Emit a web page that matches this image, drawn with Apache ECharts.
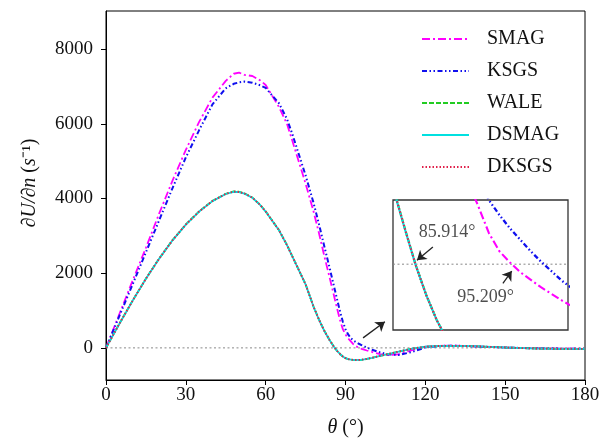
<!DOCTYPE html>
<html>
<head>
<meta charset="utf-8">
<script src="https://cdn.jsdelivr.net/npm/echarts@6/dist/echarts.min.js"></script>
<style>html,body{margin:0;padding:0;background:#fff}#c{width:613px;height:440px}</style>
</head>
<body>
<div id="c"></div>
<script>
// theta (deg)
const theta = [0,5,10,15,20,25,30,35,40,45,48,50,52,55,58,60,65,68,70,75,78,80,82,84,85,86,87,88,89,90,91,92,93,94,95,96,97,98,100,103,106,110,115,120,125,130,135,140,150,160,170,180];
const smag  = [0,900,1800,2680,3600,4480,5300,6050,6700,7150,7340,7370,7310,7280,7160,7040,6450,6000,5550,4400,3650,3080,2470,1890,1600,1300,1010,730,500,360,250,175,95,40,6,-24,-47,-70,-110,-165,-195,-170,-60,30,55,60,50,35,10,-10,-20,-25];
const ksgs  = [0,850,1700,2560,3420,4280,5100,5830,6520,6950,7070,7110,7130,7100,7030,6960,6550,6130,5730,4620,3880,3320,2730,2150,1850,1550,1250,960,700,500,360,260,195,150,110,75,40,8,-50,-120,-175,-190,-110,10,50,58,50,35,10,-10,-20,-25];
const wale  = [0,645,1265,1855,2395,2885,3305,3655,3935,4125,4190,4180,4140,4025,3825,3655,3155,2755,2455,1705,1105,765,465,212,102,-4,-94,-170,-230,-276,-301,-316,-323,-326,-324,-319,-309,-297,-266,-216,-166,-101,-21,30,50,55,50,40,10,-15,-25,-25];
const dsmag = [0,640,1260,1850,2390,2880,3300,3650,3930,4120,4180,4170,4130,4020,3820,3650,3150,2750,2450,1700,1100,760,460,210,100,-5,-95,-170,-230,-275,-300,-315,-322,-325,-323,-318,-308,-296,-265,-215,-165,-100,-20,30,50,55,50,40,10,-15,-25,-25];
const dksgs = [0,642,1262,1852,2392,2882,3302,3652,3932,4122,4184,4174,4134,4022,3822,3652,3152,2752,2452,1702,1102,762,462,211,101,-5,-95,-170,-230,-275,-300,-315,-322,-325,-323,-318,-308,-296,-265,-215,-165,-100,-20,30,50,55,50,40,10,-15,-25,-25];
const xTicks = [0,30,60,90,120,150,180];
const yTicks = [0,2000,4000,6000,8000];
const names = ['SMAG','KSGS','WALE','DSMAG','DKSGS'];
// zero-crossing annotations (inset)
const crossLabels = ['85.914°','95.209°'];

const FONT = "'Liberation Serif','Times New Roman',serif";
const pairs = s => theta.map((t,i)=>[t,s[i]]);

const X0 = 0, X1 = 180, Y0 = -860, Y1 = 9020;       // main axes extent
const IX0 = 83.8, IX1 = 100.6, IY0 = -200, IY1 = 195; // inset axes extent

const styles = {
  SMAG:  {color:'#ff00ff', type:[8,3,2,3], width:1.8},
  KSGS:  {color:'#1010ee', type:[5,2.5,1.5,2.5,1.5,2.5], width:2},
  WALE:  {color:'#22cc22', type:[5,2], width:1.8},
  DSMAG: {color:'#00e0e0', type:'solid', width:1.8},
  DKSGS: {color:'#e0204a', type:[1.5,2], width:1.8}
};
const vals = {SMAG:smag, KSGS:ksgs, WALE:wale, DSMAG:dsmag, DKSGS:dksgs};

const series = [];
// zero reference lines
series.push({type:'line', xAxisIndex:0, yAxisIndex:0, data:[[X0,0],[X1,0]], symbol:'none', silent:true,
  lineStyle:{color:'#888', type:[2,2.5], width:1}, z:2});
series.push({type:'line', xAxisIndex:1, yAxisIndex:1, data:[[IX0,0],[IX1,0]], symbol:'none', silent:true,
  lineStyle:{color:'#888', type:[2,2.5], width:1}, z:19});

names.forEach((n,k)=>{
  const st = styles[n];
  series.push({
    name:n, type:'line', data:pairs(vals[n]), symbol:'none', xAxisIndex:0, yAxisIndex:0,
    lineStyle:{color:st.color, type:st.type, width:st.width}, itemStyle:{color:st.color},
    z: 3+k
  });
});
names.forEach((n,k)=>{
  const st = styles[n];
  series.push({
    name:n, type:'line', data:pairs(vals[n]), symbol:'none', xAxisIndex:1, yAxisIndex:1,
    lineStyle:{color:st.color, type:st.type, width:st.width+0.3}, itemStyle:{color:st.color},
    clip:true, z: 20+k
  });
});

// arrows
const arrowStyle = {color:'#222', width:1.3, type:'solid', opacity:1};
series.push({type:'lines', coordinateSystem:'cartesian2d', xAxisIndex:0, yAxisIndex:0, polyline:false,
  symbol:['none','arrow'], symbolSize:9, silent:true, z:30,
  lineStyle:arrowStyle,
  data:[{coords:[[96.6,268],[104.8,698]]}]});
series.push({type:'lines', coordinateSystem:'cartesian2d', xAxisIndex:1, yAxisIndex:1, polyline:false,
  symbol:['none','arrow'], symbolSize:9, silent:true, z:30,
  lineStyle:arrowStyle,
  data:[{coords:[[87.63,52],[86.1,12]]},{coords:[[94.35,-58],[95.2,-21]]}]});
// annotation labels
series.push({type:'scatter', xAxisIndex:1, yAxisIndex:1, symbolSize:1, silent:true, z:31,
  itemStyle:{color:'rgba(0,0,0,0)'},
  label:{show:true, position:'inside', color:'#222', fontFamily:FONT, fontSize:18,
         formatter:p=>crossLabels[p.dataIndex]},
  data:[[89.0,97],[92.7,-100]]});

const chart = echarts.init(document.getElementById('c'), null, {renderer:'canvas'});
chart.setOption({
  animation:false,
  backgroundColor:'#fff',
  grid:[
    {left:106, top:11, width:479, height:369, show:true, borderColor:'#000', borderWidth:1, backgroundColor:'transparent', containLabel:false, outerBoundsMode:'none'},
    {left:393, top:200, width:175, height:130, show:true, borderColor:'#333', borderWidth:1.3, backgroundColor:'#fff', z:10, containLabel:false, outerBoundsMode:'none'}
  ],
  legend:{
    data:names, orient:'vertical', left:421, top:29, padding:0,
    itemWidth:47, itemHeight:14, itemGap:12,
    itemStyle:{opacity:0},
    textStyle:{fontFamily:FONT, fontSize:20, color:'#111', lineHeight:20, padding:[0,0,0,13]}
  },
  xAxis:[
    {type:'value', gridIndex:0, min:X0, max:X1, interval:30,
     name:'{i|θ} (°)', nameLocation:'middle', nameGap:38,
     nameTextStyle:{fontFamily:FONT, fontSize:20, color:'#111', rich:{i:{fontStyle:'italic', fontFamily:FONT, fontSize:20, color:'#111'}}},
     axisLine:{onZero:false, lineStyle:{color:'#000', width:1}},
     axisTick:{show:true, length:5, lineStyle:{color:'#000'}, customValues:xTicks},
     axisLabel:{fontFamily:FONT, fontSize:19, color:'#111', margin:6, customValues:xTicks, formatter:v=>String(v)},
     splitLine:{show:false}},
    {type:'value', gridIndex:1, min:IX0, max:IX1, show:false}
  ],
  yAxis:[
    {type:'value', gridIndex:0, min:Y0, max:Y1,
     name:'{i|∂U/∂n} ({i|s}⁻¹)', nameLocation:'middle', nameGap:66, nameRotate:90,
     nameTextStyle:{fontFamily:FONT, fontSize:20, color:'#111', padding:[0,0,0,25], rich:{i:{fontStyle:'italic', fontFamily:FONT, fontSize:20, color:'#111'}}},
     axisLine:{show:true, onZero:false, lineStyle:{color:'#000', width:1}},
     axisTick:{show:true, length:5, lineStyle:{color:'#000'}, customValues:yTicks},
     axisLabel:{fontFamily:FONT, fontSize:19, color:'#111', margin:13, customValues:yTicks, formatter:v=>String(v)},
     splitLine:{show:false}},
    {type:'value', gridIndex:1, min:IY0, max:IY1, show:false}
  ],
  series:series
});
</script>
</body>
</html>
